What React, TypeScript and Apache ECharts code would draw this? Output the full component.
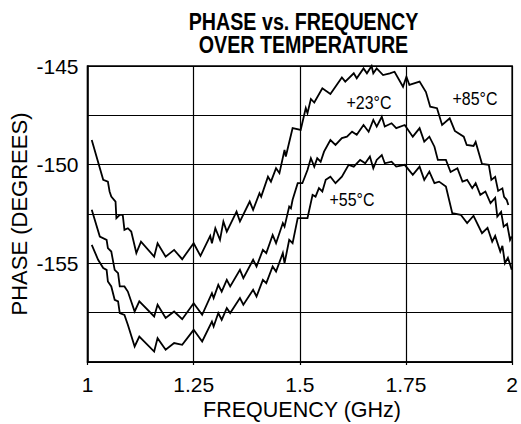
import React, { useEffect, useRef } from "react";
import * as echarts from "echarts";

// ---- data ----
const freqTop = [
  1.010, 1.037, 1.048, 1.052, 1.056, 1.066, 1.068, 1.076, 1.083, 1.087, 1.095, 1.103, 1.115, 1.126,
  1.157, 1.165, 1.184, 1.204, 1.223, 1.250, 1.266, 1.289, 1.293, 1.301, 1.312, 1.320, 1.328, 1.351,
  1.359, 1.382, 1.390, 1.405, 1.409, 1.425, 1.432, 1.444, 1.452, 1.464, 1.467, 1.483, 1.502, 1.514,
  1.518, 1.526, 1.534, 1.553, 1.572, 1.599, 1.607, 1.627, 1.634, 1.650, 1.658, 1.669, 1.673, 1.681,
  1.696, 1.712, 1.723, 1.743, 1.751, 1.758, 1.782, 1.797, 1.807, 1.823, 1.835, 1.853, 1.865, 1.886,
  1.893, 1.909, 1.914, 1.929, 1.945, 1.951, 1.960, 1.967, 1.977, 1.981, 1.987, 1.991,
];
const phaseTop = [
  -148.75, -150.77, -150.86, -151.36, -151.62, -151.87, -152.71, -152.54, -152.54, -153.30, -153.22, -153.39, -154.48, -153.90,
  -154.66, -153.98, -154.66, -154.32, -154.79, -153.98, -154.62, -153.61, -153.98, -153.22, -153.81, -152.88, -153.39, -152.38,
  -152.88, -151.87, -152.29, -151.45, -151.62, -150.61, -150.86, -150.18, -150.43, -149.25, -149.59, -148.15, -148.24, -147.13,
  -147.39, -146.67, -146.85, -146.13, -146.42, -145.58, -145.79, -145.37, -145.62, -145.12, -145.37, -145.00, -145.37, -145.12,
  -145.46, -145.37, -145.29, -146.05, -145.54, -145.96, -145.79, -146.32, -147.06, -147.14, -147.99, -147.65, -148.29, -148.58,
  -149.00, -149.05, -148.85, -149.96, -150.01, -150.77, -150.62, -151.33, -151.20, -151.63, -151.78, -152.04,
];

const freqMid = [
  1.010, 1.029, 1.045, 1.048, 1.056, 1.064, 1.072, 1.076, 1.087, 1.095, 1.111, 1.122, 1.157, 1.165,
  1.184, 1.204, 1.223, 1.250, 1.270, 1.293, 1.297, 1.308, 1.316, 1.328, 1.336, 1.359, 1.367, 1.390,
  1.398, 1.413, 1.421, 1.436, 1.444, 1.460, 1.464, 1.475, 1.479, 1.483, 1.495, 1.506, 1.518, 1.526,
  1.534, 1.541, 1.549, 1.557, 1.572, 1.584, 1.599, 1.611, 1.623, 1.634, 1.650, 1.662, 1.673, 1.681,
  1.693, 1.700, 1.716, 1.727, 1.747, 1.766, 1.782, 1.793, 1.805, 1.817, 1.825, 1.844, 1.855, 1.871,
  1.883, 1.894, 1.906, 1.914, 1.925, 1.937, 1.949, 1.960, 1.965, 1.974, 1.980, 1.988, 1.995, 1.999,
];
const phaseMid = [
  -152.29, -153.64, -153.81, -154.23, -154.40, -155.33, -155.50, -156.17, -156.17, -156.43, -157.44, -156.93, -157.69, -157.10,
  -157.77, -157.44, -157.83, -157.02, -157.61, -156.51, -156.76, -156.09, -156.43, -155.84, -156.17, -155.33, -155.75, -154.82,
  -155.16, -154.32, -154.48, -153.56, -153.98, -152.96, -153.14, -152.12, -152.21, -151.78, -150.94, -150.94, -150.27, -149.67,
  -150.10, -149.67, -149.85, -149.34, -148.75, -149.00, -148.65, -148.58, -148.33, -148.49, -147.99, -148.33, -147.73, -148.07,
  -147.57, -148.07, -147.90, -148.15, -147.99, -148.58, -148.15, -148.83, -148.58, -149.09, -149.76, -149.76, -150.37, -150.18,
  -150.86, -150.77, -151.19, -150.94, -151.53, -151.36, -151.95, -151.68, -152.63, -152.39, -153.14, -153.00, -153.81, -153.64,
];

const freqBot = [
  1.010, 1.025, 1.037, 1.045, 1.048, 1.056, 1.064, 1.072, 1.076, 1.087, 1.095, 1.111, 1.122, 1.157,
  1.165, 1.184, 1.204, 1.223, 1.250, 1.270, 1.293, 1.297, 1.308, 1.316, 1.328, 1.336, 1.359, 1.367,
  1.390, 1.398, 1.413, 1.421, 1.436, 1.444, 1.460, 1.464, 1.475, 1.483, 1.495, 1.518, 1.530, 1.537,
  1.545, 1.553, 1.561, 1.572, 1.584, 1.599, 1.615, 1.627, 1.642, 1.654, 1.665, 1.673, 1.681, 1.693,
  1.700, 1.716, 1.727, 1.747, 1.766, 1.782, 1.793, 1.805, 1.817, 1.828, 1.844, 1.859, 1.879, 1.894,
  1.909, 1.929, 1.942, 1.953, 1.960, 1.972, 1.977, 1.983, 1.990, 1.999,
];
const phaseBot = [
  -154.06, -154.82, -155.24, -155.33, -155.92, -156.17, -156.85, -156.93, -157.52, -157.61, -158.11, -159.21, -158.71, -159.47,
  -158.79, -159.38, -159.04, -159.13, -158.37, -158.96, -157.95, -158.20, -157.52, -157.86, -157.27, -157.52, -156.76, -157.10,
  -156.34, -156.68, -155.84, -156.00, -155.16, -155.42, -154.48, -154.99, -153.81, -153.98, -152.71, -152.71, -151.53, -151.62,
  -151.19, -151.36, -150.77, -150.61, -150.94, -150.61, -150.01, -150.10, -149.76, -149.93, -149.59, -150.18, -149.76, -149.51,
  -149.93, -149.85, -150.10, -150.01, -150.52, -150.10, -150.77, -150.35, -150.94, -150.86, -151.11, -152.46, -152.54, -152.96,
  -152.59, -153.47, -153.20, -153.90, -153.61, -154.40, -154.11, -154.99, -154.72, -155.33,
];

const seriesNames = ["+85°C", "+23°C", "+55°C"];
const xTicks = [1, 1.25, 1.5, 1.75, 2];
const yTickLabels = [-145, -150, -155];
const titleLines = ["PHASE vs. FREQUENCY", "OVER TEMPERATURE"];
const xName = "FREQUENCY (GHz)";
const yName = "PHASE (DEGREES)";
const curveLabels = [
  { text: "+23°C", x: 369, y: 103 },
  { text: "+85°C", x: 475, y: 99 },
  { text: "+55°C", x: 352, y: 200 },
];

const FONT = "'Liberation Sans', Arial, Helvetica, sans-serif";

const pair = (fs: number[], ps: number[]) => fs.map((f, i) => [f, ps[i]]);

export default function App() {
  const ref = useRef<HTMLDivElement>(null);
  useEffect(() => {
    if (!ref.current) return;
    const chart = echarts.init(ref.current, null, { renderer: "svg" });
    const lineSeries = [
      pair(freqTop, phaseTop),
      pair(freqMid, phaseMid),
      pair(freqBot, phaseBot),
    ].map((d, i) => ({
      name: seriesNames[i],
      type: "line",
      data: d,
      showSymbol: false,
      symbol: "none",
      clip: false,
      lineStyle: { color: "#000", width: 1.8, join: "miter" },
      z: 5,
    }));
    chart.setOption({
      animation: false,
      backgroundColor: "#fff",
      grid: {
        left: 87.5,
        right: 4,
        top: 66,
        bottom: 62,
        show: true,
        borderColor: "#000",
        borderWidth: 1.5,
        backgroundColor: "transparent",
      },
      xAxis: {
        type: "value",
        min: 1,
        max: 2,
        interval: 0.25,
        axisLine: { show: true, lineStyle: { color: "#000", width: 1.5 } },
        axisTick: { show: true, length: 3, lineStyle: { color: "#000", width: 1.2 } },
        splitLine: { show: true, lineStyle: { color: "#000", width: 1.2 } },
        axisLabel: {
          color: "#000",
          fontSize: 21,
          fontFamily: FONT,
          margin: 12,
          formatter: (v: number) => (xTicks.includes(v) ? String(v) : ""),
        },
      },
      yAxis: {
        type: "value",
        min: -160,
        max: -145,
        interval: 2.5,
        axisLine: { show: true, lineStyle: { color: "#000", width: 1.5 } },
        axisTick: { show: false },
        splitLine: { show: true, lineStyle: { color: "#000", width: 1.2 } },
        axisLabel: {
          color: "#000",
          fontSize: 21,
          fontFamily: FONT,
          margin: 9,
          formatter: (v: number) => (yTickLabels.includes(v) ? String(v) : ""),
        },
      },
      series: lineSeries,
      graphic: [
        ...titleLines.map((t, i) => ({
          type: "text",
          x: 303.5,
          y: 22 + i * 22.5,
          scaleX: 0.82,
          style: {
            text: t,
            fill: "#000",
            font: `bold 24px ${FONT}`,
            textAlign: "center",
            textVerticalAlign: "middle",
          },
        })),
        {
          type: "text",
          x: 302,
          y: 410,
          style: {
            text: xName,
            fill: "#000",
            font: `21.5px ${FONT}`,
            textAlign: "center",
            textVerticalAlign: "middle",
          },
        },
        {
          type: "text",
          x: 19,
          y: 214,
          rotation: Math.PI / 2,
          style: {
            text: yName,
            fill: "#000",
            font: `22px ${FONT}`,
            textAlign: "center",
            textVerticalAlign: "middle",
          },
        },
        ...curveLabels.map((l) => ({
          type: "text",
          x: l.x,
          y: l.y,
          scaleX: 0.84,
          z: 10,
          style: {
            text: l.text,
            fill: "#000",
            font: `19px ${FONT}`,
            textAlign: "center",
            textVerticalAlign: "middle",
          },
        })),
      ],
    });
    return () => chart.dispose();
  }, []);
  return (
    <div
      ref={ref}
      style={{ position: "fixed", left: 0, top: 0, width: 521, height: 424, background: "#fff" }}
    />
  );
}
